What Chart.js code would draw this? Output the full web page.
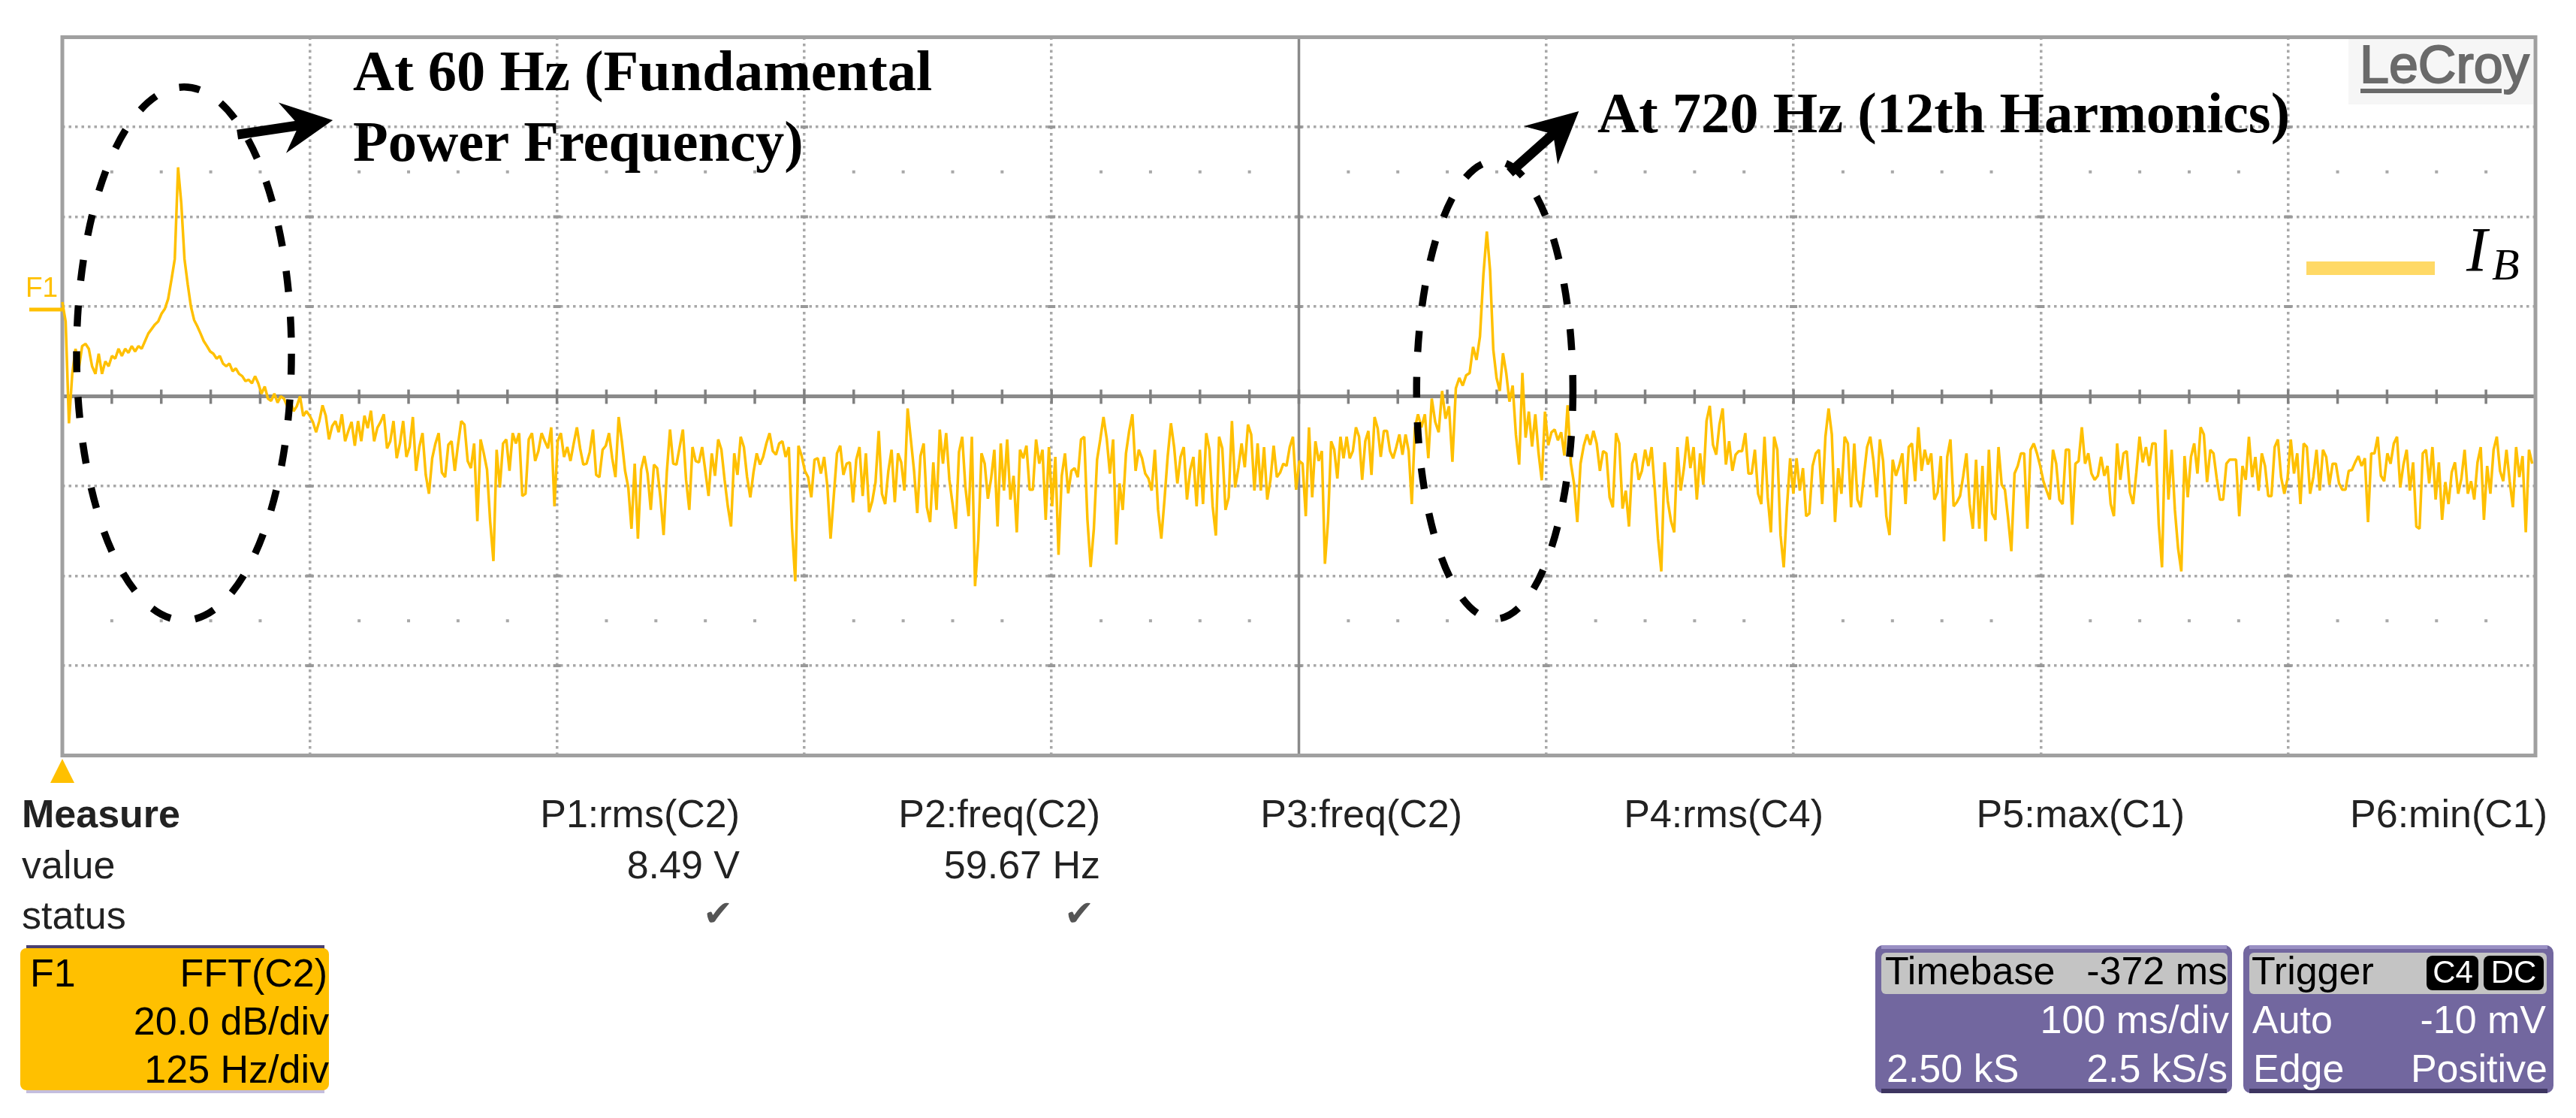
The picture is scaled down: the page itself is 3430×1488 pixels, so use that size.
<!DOCTYPE html>
<html><head><meta charset="utf-8">
<style>html,body{margin:0;padding:0;background:#fff}canvas{display:block}</style>
<script src="https://cdn.jsdelivr.net/npm/chart.js@4/dist/chart.umd.min.js"></script>
</head><body><canvas id="c" width="3430" height="1488"></canvas>
<script>
// Segment boundaries in Hz
const segmentEdgesHz=[0,58.5,125,211.4,424,636.6,685.2,720,849,1058,1250];
// dB values per segment (20 dB/div, centre line = 0 dB)
const seg1=[21,16.7,-6,5,10.6,6.2,11.2,11.7,10.6,6.7,5,9.5,5,7.8,6.7,9,8.4,10.6,9,10.6,9.7,11.2,10,11.2,10.6,12.3,14,15,16,16.7,18.4,19.5,21.7,26,30.6];
const seg2=[51,43,30.6,25,20,17,15.6,14,12.3,11.2,10,9.5,8.4,9,7.3,6.7,7.3,5.6,6.2,5,4.5,3.4,3.7,2.9,4.5,2.9,0.6,2.2,-0.5,-1,0.6,-1.4,0,-0.5,-2.2,-1,-3.3,-2.2,0,-4.4,-3.3];
const seg3=[-4.3,-5.7,-8,-5.5,-2,-4.3,-9.6,-6.6,-5.5,-8,-4,-10,-7.7,-5.7,-11,-5.5,-10,-4.3,-7.1,-3.2,-10,-7,-5.7,-4,-11.6,-10,-5.5,-13.8,-10.5,-5.5,-13.5,-11.3,-4.6,-16.6,-11.3,-8.2,-17.5,-21.7,-13.8,-10.5,-8.2,-17,-18,-10.8,-10,-16.6,-10.8,-5.5,-6.3,-14.4,-16,-10.5,-27.8];
const seg4=[-9.6,-12.7,-16.3,-28,-36.7,-11.9,-20.3,-10.5,-9.6,-16.6,-8.2,-10.5,-8.2,-22.2,-21.7,-9.6,-8.2,-14.4,-12.2,-8.2,-10,-11.6,-6.9,-24.5,-10,-8.2,-13.5,-11.3,-14.4,-10.5,-6.9,-11.6,-15.2,-15,-12.4,-7.4,-17.5,-18,-11.9,-11,-8.2,-13.8,-18,-4.6,-10,-16.6,-20.3,-29.5,-15,-31.7,-16.3,-13.3,-17.2,-25.3,-15.2,-16,-22.5,-30.9,-16.9,-7.4,-15,-15.2,-11.3,-7.4,-18.6,-25.3,-11.3,-14.4,-14.7,-11.3,-16.6,-22.2,-12.7,-17.7,-9.6,-11.9,-18.6,-24.5,-29,-12.7,-17.5,-9,-11.3,-18,-22.5,-16.9,-12.7,-15.2,-13.5,-10.5,-8.2,-12.2,-13,-10.5,-10,-13.5,-11.3,-29.5,-41.2,-11,-13.3,-16.6,-18,-22.5,-14.1,-13.8,-17.2,-13.5,-20,-31.7,-22.2,-12.7,-11,-17.5,-15,-14.7,-23.6,-14.1,-11.3,-22.2,-12.7,-25.8,-23.3,-19.1,-7.7,-21.7,-24,-16.6,-11.9,-23.6,-12.7];
const seg5=[-14.7,-21,-2.7,-9.6,-16.6,-26,-13.3,-10.5,-24.7,-28,-14.7,-25.3,-7.4,-15,-8.2,-18.6,-24,-29.5,-12.4,-9,-20.3,-26.7,-9,-42.3,-32,-12.7,-15,-22.8,-18.3,-11.9,-29,-10.5,-21,-9.6,-23,-17.7,-30.3,-11.9,-13.8,-11,-20.8,-20.8,-9.6,-15,-11.9,-27.5,-11.3,-24.5,-13.5,-35.3,-17.7,-12.7,-21.6,-16.6,-16,-18,-9.6,-9,-27.5,-38,-29.5,-14.1,-9.6,-4.6,-9.4,-17.2,-9.6,-33,-19.4,-25.3,-12.7,-7.7,-4,-16.6,-11.9,-13.8,-17.2,-18.3,-21,-11.9,-25.3,-31.7,-23,-13.3,-6,-11.3,-19.4,-13.5,-11.3,-23,-16.4,-13.5,-24.5,-11.9,-24,-8.2,-11.9,-24.5,-31,-9,-11.6,-25.3,-22.5,-5.5,-20.3,-16,-10.5,-15.8,-6.3,-8.5,-21,-10.5,-21,-11.3,-23,-18.6,-11,-18,-17,-15,-15.5,-11.3,-9,-20.8,-14.4,-15,-26.7,-6.9,-22.5,-10,-14.4];
const seg6=[-12.2,-37.3,-27.8,-10,-11.9,-18.3,-9,-13.8,-9,-13.8,-12.2,-6.9,-9,-18.6,-10,-7.7,-17.5,-4.6,-7.1,-13.5,-7.7,-7.7,-12.2,-13.8,-11.3,-8.5,-13,-8.5,-12.2,-24,-7.1];
const seg7=[-4,-6.9,-4,-13.8,-0.5,-5.7,-8,1.2,-5,-2.2,-14.6,1.8,4.1,2.4,4.7,5.2,11,8.1,13.3,27.1];
const seg8=[36.7,28,10.4,4.1,1.2,9.6,5.2,-1.2,2.4,-8.6,-15.2,5.2,-9.2,-3.4,-11.2,-4,-12.6,-18.7,-3.4,-10.9,-8,-7.4,-9.8,-8,-13.2,-2,-14.9,-19.5,-28,-15,-11,-8.5,-10.8,-7.7,-10.5,-16.6,-12.2,-12.7,-22.5,-24.7,-8.2,-10.5,-25,-21,-29,-15,-12.7,-18.6,-16.6,-11.9,-15.5,-11.3,-20.8,-31.7,-39,-14.7,-23.3,-27.8,-30.3,-11.3,-21,-16,-9,-16,-11.3,-23,-12.7,-19.7,-5.5,-2.1,-10.8,-13,-6.3,-2.7,-15.2,-10,-16.6,-13,-12.2];
const seg9=[-12.2,-8.2,-17.2,-17.2,-11.9,-21.7,-24,-9,-22.5,-30.3,-9,-11.9,-30.9,-38.1,-24.7,-13.8,-21.7,-13.8,-21,-16,-26.7,-26.1,-15.5,-12.7,-11.9,-24,-9,-2.7,-8.5,-28,-16,-21.7,-9,-10.5,-24.7,-10.5,-23,-24.7,-17.7,-11.3,-9,-14.4,-22.5,-9.6,-14.4,-26.7,-30.9,-14.1,-17.7,-15.5,-12.7,-24,-11.3,-10.5,-18.9,-6.9,-16.6,-11.9,-15.2,-12.7,-23,-21.4,-13.3,-32.3,-13.5,-9.6,-24.5,-23.6,-22.2,-17.7,-12.7,-24,-29.5,-14.1,-29.5,-15.5,-32.3,-11.9,-26.1,-27.5,-11.3,-19.7,-20.8,-27.2,-34.5,-17.2,-15.5,-12.7,-12.7,-29.5,-11.9,-10.5,-12.7,-15.5,-18.9,-21,-23,-11.9,-15,-23,-24,-11.9,-11.9,-28.6,-15,-14.4,-6.9,-15,-12.7,-17.2,-18.6,-17.7,-13.5,-17.7,-15.5,-24,-26.7,-10.5,-18.6,-12.7,-12.2,-21.4,-24,-16.9,-9,-14.7,-11.3,-15.5,-10.5];
const seg10=[-10.5,-28.6,-38.1,-7.4,-23,-11.9,-25.3,-33.9,-39,-13.3,-22.5,-13.5,-10.5,-17.2,-6.9,-8.5,-19.1,-11.9,-12.7,-18.3,-23,-23,-15,-14.1,-14.1,-14.1,-26.7,-15.5,-18.6,-9,-18,-13.5,-21,-12.7,-15.5,-22.2,-22.2,-11.3,-9.6,-18,-21.7,-18.3,-9.6,-17.2,-12.7,-24,-10.5,-11.3,-21.7,-18,-11.9,-21,-11.9,-13.5,-19.7,-15,-15,-19.4,-20.8,-20.8,-16.6,-16.4,-14.7,-13.3,-15.5,-13.8,-28,-12.7,-12.7,-9,-17.7,-18.9,-12.7,-15,-10.5,-9,-20.3,-15.2,-11.9,-21,-14.7,-29,-29.5,-12.7,-11.9,-19.4,-11.3,-23,-14.7,-27.5,-19.1,-24,-16.9,-14.7,-21.7,-18.3,-11.9,-21.7,-18.9,-23,-14.7,-11.3,-27.5,-15.5,-21.7,-11.9,-9,-16.6,-18.9,-11.9,-18.9,-24.7,-11.3,-18,-13.3,-30.3,-11.9,-15];
const segments=[seg1,seg2,seg3,seg4,seg5,seg6,seg7,seg8,seg9,seg10];
const seriesName='I_B';
const hzPerDiv=125, dbPerDiv=20;
// annotations in data units
const ellipseCentersHz=[61.5,724], ellipseCentersDb=[9.5,1.4], ellipseRxHz=[54.3,39.5], ellipseRyDb=[59.4,51];
const arrowTailHz=[88.5,731.6], arrowTailDb=[58.3,49.8], arrowTipHz=[136.7,766.5], arrowTipDb=[61.5,63.5];
const annotationLines=[['At 60 Hz (Fundamental',470,120],['Power Frequency)',470,214],['At 720 Hz (12th Harmonics)',2127,176]];
const measureHeads=[['P1:rms(C2)',985],['P2:freq(C2)',1465],['P3:freq(C2)',1947],['P4:rms(C4)',2428],['P5:max(C1)',2909],['P6:min(C1)',3392]];
const measureValues=[['8.49 V',985],['59.67 Hz',1465]];
const statusChecks=[956,1437];

const AMBER='#FFC000', GRID='#a8a8a8', AXIS='#8a8a8a';
const traceData=[];
segments.forEach((s,k)=>{const a=segmentEdgesHz[k],b=segmentEdgesHz[k+1];
  s.forEach((v,i)=>traceData.push({x:a+i*(b-a)/s.length,y:v}));});

function txt(ctx,t,x,y,font,color,align,base){ctx.font=font;ctx.fillStyle=color;ctx.textAlign=align||'left';ctx.textBaseline=base||'alphabetic';ctx.fillText(t,x,y);}
function rrect(ctx,x,y,w,h,r,fill){ctx.beginPath();ctx.roundRect(x,y,w,h,r);ctx.fillStyle=fill;ctx.fill();}

const scopePlugin={id:'scope',
 beforeDatasetsDraw(chart){
  const {ctx,scales:{x,y},chartArea:A}=chart;ctx.save();
  ctx.fillStyle=GRID;
  for(const db of [50,-50]){for(let f=0;f<=1250;f+=25){if(f%125===0)continue;ctx.fillRect(x.getPixelForValue(f)-2,y.getPixelForValue(db)-2,4,4);}}
  ctx.fillStyle='#999';
  for(let f=125;f<1250;f+=125){for(let d=-60;d<=60;d+=20){if(d===0)continue;ctx.fillRect(x.getPixelForValue(f)-5,y.getPixelForValue(d)-2,10,4);}}
  ctx.strokeStyle=AXIS;ctx.lineWidth=5;ctx.beginPath();ctx.moveTo(A.left,y.getPixelForValue(0));ctx.lineTo(A.right,y.getPixelForValue(0));ctx.stroke();
  ctx.lineWidth=3.5;ctx.beginPath();ctx.moveTo(x.getPixelForValue(625),A.top);ctx.lineTo(x.getPixelForValue(625),A.bottom);ctx.stroke();
  ctx.lineWidth=3.5;ctx.strokeStyle='#808080';ctx.beginPath();
  for(let f=25;f<1250;f+=25){const px=x.getPixelForValue(f);ctx.moveTo(px,y.getPixelForValue(0)-9);ctx.lineTo(px,y.getPixelForValue(0)+10);}
  ctx.stroke();
  ctx.strokeStyle='#a0a0a0';ctx.lineWidth=5;ctx.strokeRect(A.left,A.top,A.right-A.left,A.bottom-A.top);
  ctx.fillStyle='#f6f6f6';ctx.fillRect(3127,52,246,87);
  ctx.strokeStyle='#6a6a6a';ctx.lineWidth=2;ctx.font='70px "Liberation Sans"';ctx.textAlign='left';ctx.textBaseline='alphabetic';ctx.strokeText('LeCroy',3142,110);
  txt(ctx,'LeCroy',3142,110,'70px "Liberation Sans"','#6a6a6a');
  ctx.fillStyle='#6a6a6a';ctx.fillRect(3143,118,188,6);
  ctx.restore();
 },
 afterDatasetsDraw(chart){
  const {ctx,scales:{x,y},chartArea:A}=chart;ctx.save();
  txt(ctx,'F1',34,395,'37px "Liberation Sans"',AMBER);
  ctx.strokeStyle=AMBER;ctx.lineWidth=5;ctx.beginPath();ctx.moveTo(39,412);ctx.lineTo(A.left,412);ctx.stroke();
  ctx.fillStyle=AMBER;ctx.beginPath();ctx.moveTo(A.left,1010);ctx.lineTo(A.left+16,1042);ctx.lineTo(A.left-16,1042);ctx.closePath();ctx.fill();
  ctx.strokeStyle='#000';ctx.lineWidth=9.5;ctx.setLineDash([28,33]);
  ellipseCentersHz.forEach((c,i)=>{const cx=x.getPixelForValue(c),cy=y.getPixelForValue(ellipseCentersDb[i]);
   const rx=Math.abs(x.getPixelForValue(c+ellipseRxHz[i])-cx),ry=Math.abs(y.getPixelForValue(ellipseCentersDb[i]+ellipseRyDb[i])-cy);
   ctx.beginPath();ctx.ellipse(cx,cy,rx,ry,0,0,2*Math.PI);ctx.stroke();});
  ctx.setLineDash([]);
  arrowTailHz.forEach((h,i)=>{const x0=x.getPixelForValue(h),y0=y.getPixelForValue(arrowTailDb[i]),x1=x.getPixelForValue(arrowTipHz[i]),y1=y.getPixelForValue(arrowTipDb[i]);
   const L=Math.hypot(x1-x0,y1-y0),ux=(x1-x0)/L,uy=(y1-y0)/L,nx=-uy,ny=ux;
   const hl=68,hw=34,sw=6.5,nt=50;
   ctx.fillStyle='#000';ctx.beginPath();
   ctx.moveTo(x1,y1);
   ctx.lineTo(x1-ux*hl+nx*hw,y1-uy*hl+ny*hw);
   ctx.lineTo(x1-ux*nt+nx*sw,y1-uy*nt+ny*sw);
   ctx.lineTo(x0+nx*sw,y0+ny*sw);ctx.lineTo(x0-nx*sw,y0-ny*sw);
   ctx.lineTo(x1-ux*nt-nx*sw,y1-uy*nt-ny*sw);
   ctx.lineTo(x1-ux*hl-nx*hw,y1-uy*hl-ny*hw);
   ctx.closePath();ctx.fill();});
  annotationLines.forEach(l=>txt(ctx,l[0],l[1],l[2],'bold 76.5px "Liberation Serif"','#000'));
  ctx.fillStyle='#FFD966';ctx.fillRect(3071,348,171,18);
  txt(ctx,'I',3284,361,'italic 84px "Liberation Serif"','#000');
  txt(ctx,'B',3318,372,'italic 60px "Liberation Serif"','#000');
  const F='52px "Liberation Sans"', DK='#222';
  const my=[1087,1155,1222];
  txt(ctx,'Measure',29,my[0],'bold 52px "Liberation Sans"',DK,'left','middle');
  txt(ctx,'value',29,my[1],F,DK,'left','middle');
  txt(ctx,'status',29,my[2],F,DK,'left','middle');
  measureHeads.forEach(h=>txt(ctx,h[0],h[1],my[0],F,DK,'right','middle'));
  measureValues.forEach(h=>txt(ctx,h[0],h[1],my[1],F,DK,'right','middle'));
  statusChecks.forEach(cx=>txt(ctx,'\u2714',cx,my[2]-2,'48px "DejaVu Sans"','#555','center','middle'));
  ctx.fillStyle='#4a4070';ctx.fillRect(35,1258,397,6);
  ctx.fillStyle='#c4bede';ctx.fillRect(35,1449,397,6);
  rrect(ctx,27,1262,411,189,8,AMBER);
  txt(ctx,'F1',40,1299,F,'#000','left','middle');
  txt(ctx,'FFT(C2)',436,1299,F,'#000','right','middle');
  txt(ctx,'20.0 dB/div',438,1363,F,'#000','right','middle');
  txt(ctx,'125 Hz/div',438,1427,F,'#000','right','middle');
  const P='#72679F', H='#C4C4C4';
  rrect(ctx,2497,1258,475,197,10,P); rrect(ctx,2987,1258,413,197,10,P);
  ctx.fillStyle='#3d3560';ctx.fillRect(2505,1449,460,6);ctx.fillRect(2995,1449,397,6);
  ctx.fillStyle='#9a90c4';ctx.fillRect(2505,1258,460,5);ctx.fillRect(2995,1258,397,5);
  rrect(ctx,2505,1268,461,55,6,H); rrect(ctx,2995,1268,396,55,6,H);
  txt(ctx,'Timebase',2510,1296,F,'#000','left','middle');
  txt(ctx,'-372 ms',2966,1296,F,'#000','right','middle');
  txt(ctx,'100 ms/div',2968,1361,F,'#fff','right','middle');
  txt(ctx,'2.50 kS',2512,1426,F,'#fff','left','middle');
  txt(ctx,'2.5 kS/s',2966,1426,F,'#fff','right','middle');
  txt(ctx,'Trigger',2998,1296,F,'#000','left','middle');
  rrect(ctx,3231,1272,69,46,8,'#000'); rrect(ctx,3307,1272,80,46,8,'#000');
  txt(ctx,'C4',3266,1296,'42px "Liberation Sans"','#fff','center','middle');
  txt(ctx,'DC',3347,1296,'42px "Liberation Sans"','#fff','center','middle');
  txt(ctx,'Auto',2999,1361,F,'#fff','left','middle');
  txt(ctx,'-10 mV',3390,1361,F,'#fff','right','middle');
  txt(ctx,'Edge',3000,1426,F,'#fff','left','middle');
  txt(ctx,'Positive',3392,1426,F,'#fff','right','middle');
  ctx.restore();
 }};

new Chart(document.getElementById('c'),{
 type:'line',
 data:{datasets:[{label:seriesName,data:traceData,borderColor:AMBER,borderWidth:3.5,pointRadius:0,tension:0,borderJoinStyle:'bevel',fill:false,clip:false}]},
 options:{responsive:false,animation:false,devicePixelRatio:1,
  layout:{padding:{left:83,top:49.5,right:54,bottom:482.5}},
  plugins:{legend:{display:false},tooltip:{enabled:false},title:{display:false}},
  scales:{
   x:{type:'linear',min:0,max:1250,title:{display:false},
      ticks:{display:false,stepSize:hzPerDiv},
      border:{display:false,dash:[3.5,5]},
      grid:{drawTicks:false,lineWidth:3.5,color:c=>(c.tick&&(c.tick.value===625||c.tick.value===0||c.tick.value===1250))?'transparent':GRID}},
   y:{type:'linear',min:-80,max:80,title:{display:false},
      ticks:{display:false,stepSize:dbPerDiv},
      border:{display:false,dash:[3.5,5]},
      grid:{drawTicks:false,lineWidth:3.5,color:c=>(c.tick&&(c.tick.value===0||Math.abs(c.tick.value)===80))?'transparent':GRID}}
  }},
 plugins:[scopePlugin]
});
</script></body></html>
